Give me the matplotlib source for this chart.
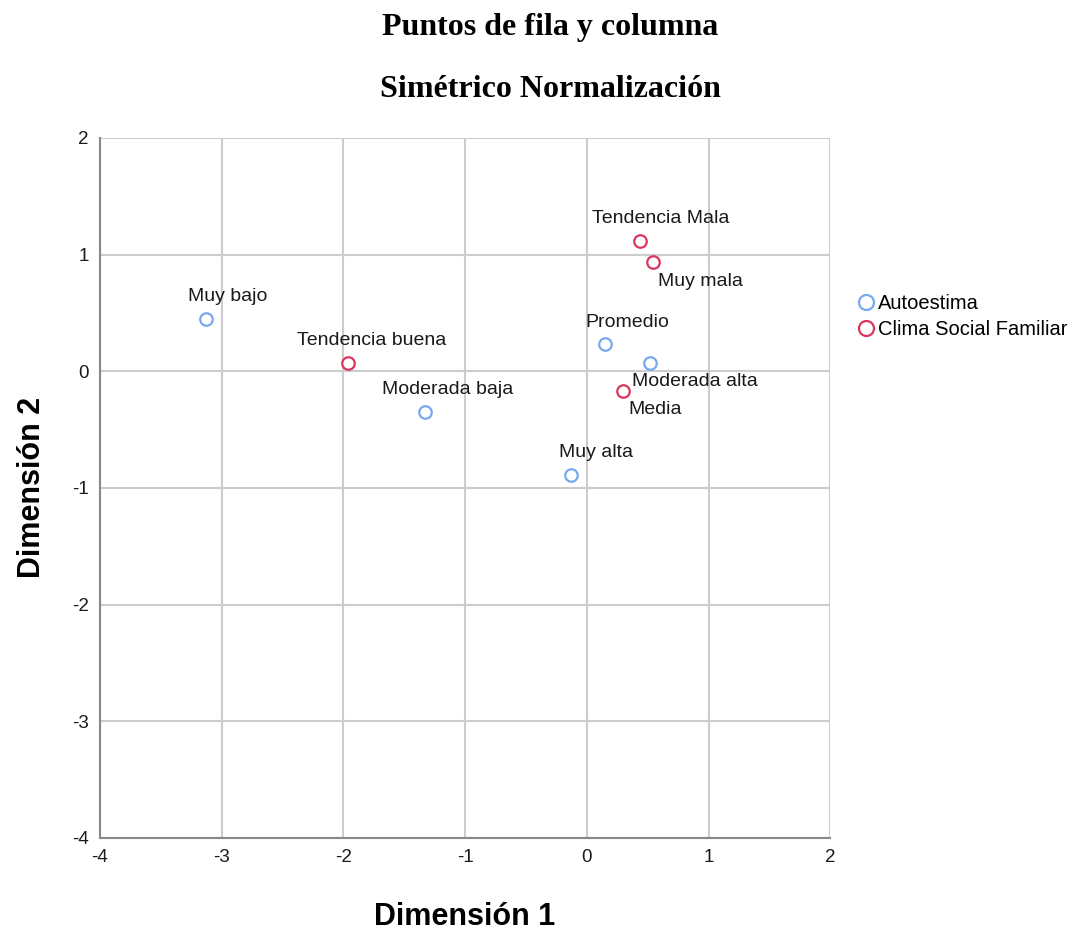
import matplotlib.pyplot as plt

plt.rcParams['axes.unicode_minus'] = False

# coordenadas
auto_labels = ['Muy bajo', 'Moderada baja', 'Promedio', 'Moderada alta', 'Muy alta']
auto_x = [-3.13, -1.33, 0.15, 0.52, -0.13]
auto_y = [0.45, -0.35, 0.23, 0.07, -0.89]

clima_labels = ['Tendencia Mala', 'Muy mala', 'Tendencia buena', 'Media']
clima_x = [0.44, 0.54, -1.96, 0.30]
clima_y = [1.12, 0.94, 0.07, -0.17]

blue = '#78a8f0'
red = '#dc3560'

# posicion de cada etiqueta (desplazamiento en puntos, alineacion)
label_pos = {
    'Muy bajo': ((16, 16), 'center'),
    'Moderada baja': ((16, 16), 'center'),
    'Promedio': ((16, 16), 'center'),
    'Moderada alta': ((-13, -13), 'left'),
    'Muy alta': ((18, 16), 'center'),
    'Tendencia Mala': ((15, 16), 'center'),
    'Muy mala': ((4, -14), 'left'),
    'Tendencia buena': ((17, 16), 'center'),
    'Media': ((4, -13), 'left'),
}

fig = plt.figure(figsize=(10.81, 9.32), dpi=100)
ax = fig.add_axes([0.0925, 0.101, 0.6755, 0.751])

ax.plot(auto_x, auto_y, 'o', mfc='white', mec=blue, mew=1.6, ms=9, label='Autoestima', zorder=3)
ax.plot(clima_x, clima_y, 'o', mfc='white', mec=red, mew=1.6, ms=9, label='Clima Social Familiar', zorder=3)

for lbls, xs, ys in [(auto_labels, auto_x, auto_y), (clima_labels, clima_x, clima_y)]:
    for lab, x, y in zip(lbls, xs, ys):
        off, ha = label_pos[lab]
        ax.annotate(lab, (x, y), xytext=off, textcoords='offset points',
                    ha=ha, va='center', fontsize=14, family='Liberation Sans', color='#1a1a1a')

ax.set_xlim(-4, 2)
ax.set_ylim(-4, 2)
ax.set_xticks(range(-4, 3))
ax.set_yticks(range(-4, 3))
ax.grid(True, color='#cccccc', linewidth=1.5)
ax.set_axisbelow(True)
for s in ['top', 'right']:
    ax.spines[s].set_visible(False)
for s in ['left', 'bottom']:
    ax.spines[s].set_color('#888888')
    ax.spines[s].set_linewidth(1.5)
ax.tick_params(length=0, pad=8, labelsize=13.5, labelcolor='#1a1a1a')
for t in ax.get_xticklabels() + ax.get_yticklabels():
    t.set_family('Liberation Sans')

ax.set_xlabel('Dimensión 1', fontsize=22, fontweight='bold', family='Liberation Sans', labelpad=26)
ax.set_ylabel('Dimensión 2', fontsize=22, fontweight='bold', family='Liberation Sans', labelpad=18)

fig.text(0.509, 0.970, 'Puntos de fila y columna', ha='center', va='center',
         fontsize=23, fontweight='bold', family='Liberation Serif')
fig.text(0.509, 0.904, 'Simétrico Normalización', ha='center', va='center',
         fontsize=23, fontweight='bold', family='Liberation Serif')

leg = ax.legend(loc='upper left', bbox_to_anchor=(1.021, 0.791), frameon=False,
                handletextpad=0.1, borderpad=0, labelspacing=0.35, handlelength=1.0,
                markerscale=1.2, prop={'family': 'Liberation Sans', 'size': 14.5})

fig.savefig('out.png', dpi=100)
